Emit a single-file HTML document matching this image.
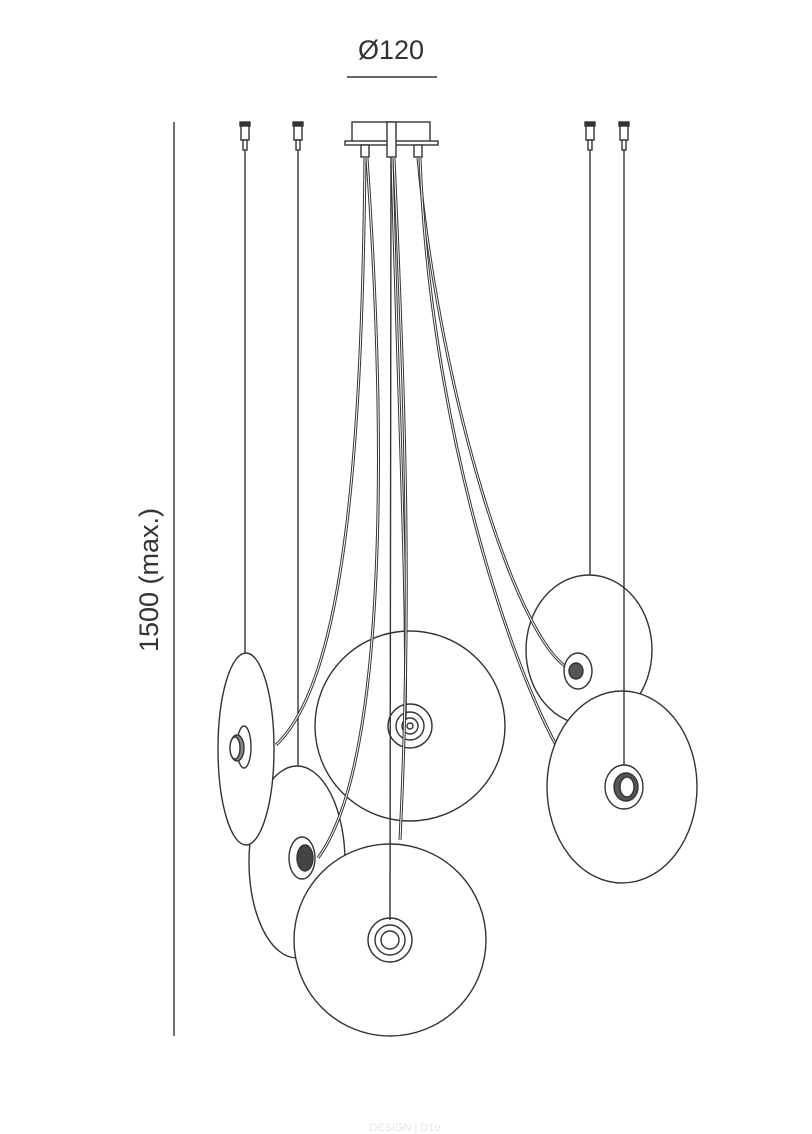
<!DOCTYPE html>
<html><head><style>
html,body{margin:0;padding:0;background:#fff;}
svg{display:block;}
</style></head><body>
<svg width="812" height="1134" viewBox="0 0 812 1134" xmlns="http://www.w3.org/2000/svg">
<rect width="812" height="1134" fill="#fff"/>
<g font-family="'Liberation Sans',sans-serif" fill="#333">
<text x="391" y="59" font-size="27" text-anchor="middle">Ø120</text>
<text transform="translate(158,580) rotate(-90)" font-size="27" text-anchor="middle">1500 (max.)</text>
<text x="405" y="1131" font-size="11" text-anchor="middle" fill="#e6e6e6">DESIGN | D10</text>
</g>
<g stroke="#333" fill="none" stroke-width="1.4">
<line x1="347" y1="77" x2="437" y2="77"/>
<line x1="174" y1="122" x2="174" y2="1036"/>
<!-- canopy -->
<rect x="352" y="122" width="78" height="20" fill="#fff"/>
<rect x="345" y="141" width="93" height="4" fill="#fff"/>
<rect x="361" y="145" width="8" height="12" fill="#fff"/>
<rect x="387" y="122" width="9" height="35" fill="#fff"/>
<rect x="414" y="145" width="8" height="12" fill="#fff"/>
<!-- single rods caps -->
<g fill="#fff">
<rect x="240" y="122" width="10" height="4" fill="#333"/><rect x="241" y="126" width="8" height="14"/><rect x="243" y="140" width="4" height="10"/>
<rect x="293" y="122" width="10" height="4" fill="#333"/><rect x="294" y="126" width="8" height="14"/><rect x="296" y="140" width="4" height="10"/>
<rect x="585" y="122" width="10" height="4" fill="#333"/><rect x="586" y="126" width="8" height="14"/><rect x="588" y="140" width="4" height="10"/>
<rect x="619" y="122" width="10" height="4" fill="#333"/><rect x="620" y="126" width="8" height="14"/><rect x="622" y="140" width="4" height="10"/>
</g>
<line x1="245" y1="150" x2="245" y2="728"/>
<line x1="298" y1="150" x2="298" y2="768"/>
<line x1="590" y1="150" x2="590" y2="577"/>
<!-- back discs -->
<ellipse cx="589" cy="650" rx="63" ry="75" fill="#fff"/>
<!-- cables to right -->
<path d="M418,158 C440,400 520,650 572,670" stroke-width="3"/>
<path d="M418,158 C440,400 520,650 572,670" stroke="#fff" stroke-width="1"/>
<path d="M420,158 C430,420 505,650 556,745" stroke-width="3"/>
<path d="M420,158 C430,420 505,650 556,745" stroke="#fff" stroke-width="1"/>
<ellipse cx="578" cy="671" rx="14" ry="18" fill="#fff"/>
<ellipse cx="576" cy="671" rx="7" ry="8" fill="#555"/>
<ellipse cx="297" cy="862" rx="48" ry="96" fill="#fff"/>
<ellipse cx="246" cy="749" rx="28" ry="96" fill="#fff"/>
<ellipse cx="244" cy="747" rx="7" ry="21" fill="#fff"/>
<ellipse cx="237" cy="748" rx="7" ry="13" fill="#888"/>
<ellipse cx="235" cy="748" rx="5" ry="11" fill="#fff"/>
<circle cx="410" cy="726" r="95" fill="#fff"/>
<circle cx="410" cy="726" r="22"/>
<circle cx="410" cy="726" r="14"/>
<circle cx="410" cy="726" r="8"/>
<circle cx="410" cy="726" r="3"/>
<!-- left cables -->
<path d="M365,158 C362,450 345,680 276,745" stroke-width="3"/>
<path d="M365,158 C362,450 345,680 276,745" stroke="#fff" stroke-width="1"/>
<path d="M367,158 C385,420 390,760 318,858" stroke-width="3"/>
<path d="M367,158 C385,420 390,760 318,858" stroke="#fff" stroke-width="1"/>
<ellipse cx="302" cy="858" rx="13" ry="21" fill="#fff"/>
<ellipse cx="305" cy="858" rx="8" ry="13" fill="#444"/>
<!-- center cables -->
<path d="M392,158 C398,400 408,600 405,720" stroke-width="3"/>
<path d="M392,158 C398,400 408,600 405,720" stroke="#fff" stroke-width="1"/>
<path d="M394,158 C405,400 412,600 400,840" stroke-width="3"/>
<path d="M394,158 C405,400 412,600 400,840" stroke="#fff" stroke-width="1"/>
<circle cx="390" cy="940" r="96" fill="#fff"/>
<line x1="391" y1="157" x2="390" y2="920"/>
<circle cx="390" cy="940" r="22"/>
<circle cx="390" cy="940" r="15"/>
<circle cx="390" cy="940" r="9"/>
<ellipse cx="622" cy="787" rx="75" ry="96" fill="#fff"/>
<line x1="624" y1="150" x2="624" y2="767"/>
<ellipse cx="624" cy="787" rx="19" ry="22" fill="#fff"/>
<ellipse cx="626" cy="787" rx="12" ry="14" fill="#555"/>
<ellipse cx="627" cy="787" rx="7" ry="10" fill="#fff"/>
</g>
</svg>
</body></html>
